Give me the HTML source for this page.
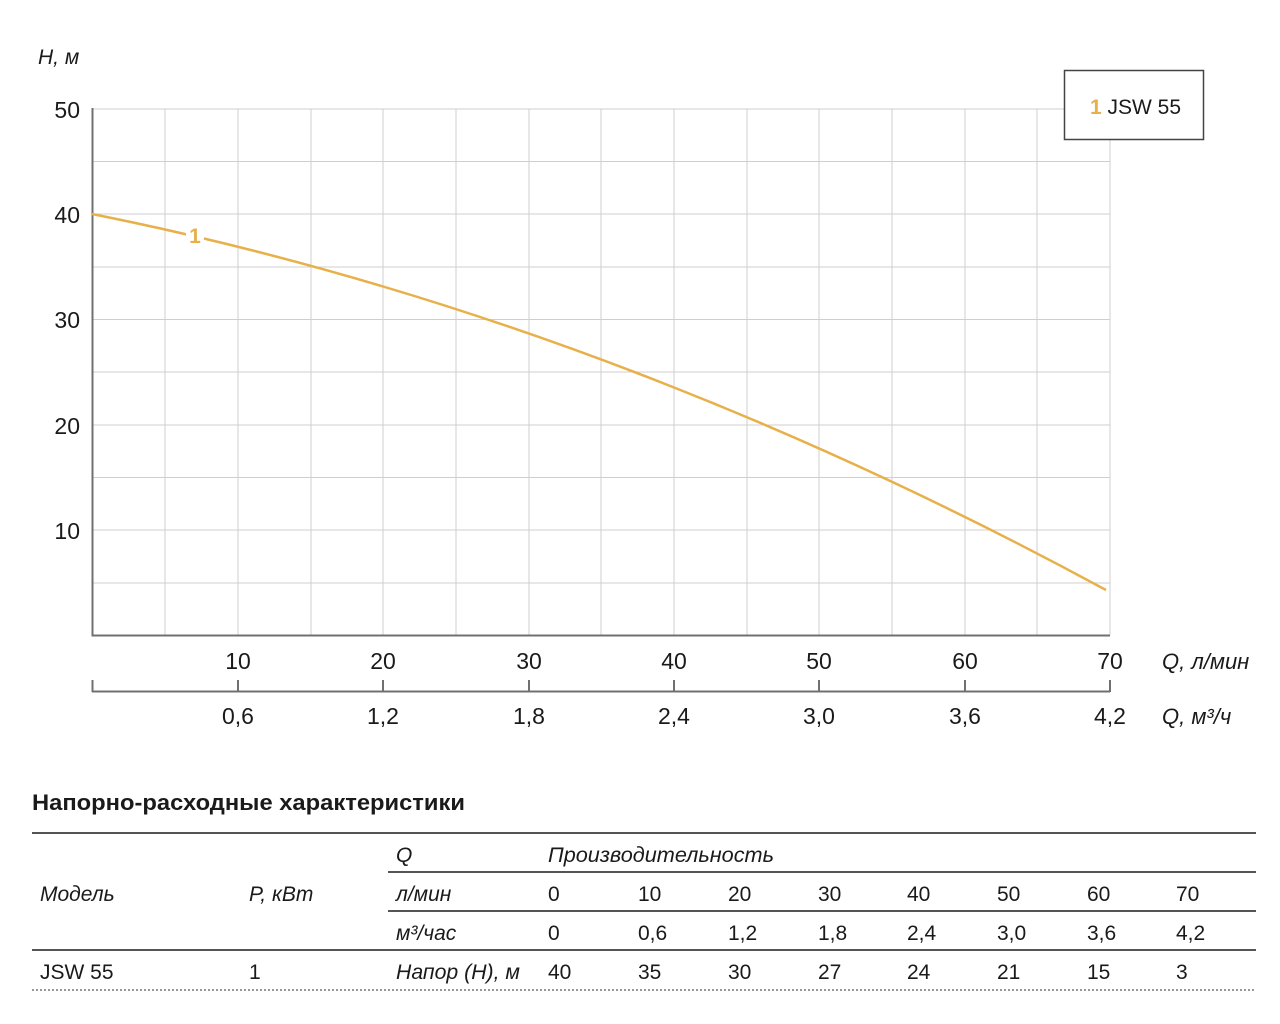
<!DOCTYPE html>
<html><head><meta charset="utf-8"><style>
html,body{margin:0;padding:0;background:#fff;}
svg{display:block;}
text{font-family:"Liberation Sans","DejaVu Sans",sans-serif;fill:#1a1a1a;}
.it{font-style:italic;}
</style></head><body>
<svg width="1280" height="1024" viewBox="0 0 1280 1024" xmlns="http://www.w3.org/2000/svg">
<rect width="1280" height="1024" fill="#fff"/>
<g stroke="#cfcfcf" stroke-width="1">
<line x1="165" y1="109" x2="165" y2="635"/><line x1="238" y1="109" x2="238" y2="635"/>
<line x1="311" y1="109" x2="311" y2="635"/><line x1="383" y1="109" x2="383" y2="635"/>
<line x1="456" y1="109" x2="456" y2="635"/><line x1="529" y1="109" x2="529" y2="635"/>
<line x1="601" y1="109" x2="601" y2="635"/><line x1="674" y1="109" x2="674" y2="635"/>
<line x1="747" y1="109" x2="747" y2="635"/><line x1="819" y1="109" x2="819" y2="635"/>
<line x1="892" y1="109" x2="892" y2="635"/><line x1="965" y1="109" x2="965" y2="635"/>
<line x1="1037" y1="109" x2="1037" y2="635"/><line x1="1110" y1="139" x2="1110" y2="635"/>
<line x1="92" y1="109" x2="1064" y2="109"/>
<line x1="92" y1="161.5" x2="1110" y2="161.5"/><line x1="92" y1="214" x2="1110" y2="214"/>
<line x1="92" y1="267" x2="1110" y2="267"/><line x1="92" y1="319.5" x2="1110" y2="319.5"/>
<line x1="92" y1="372" x2="1110" y2="372"/><line x1="92" y1="425" x2="1110" y2="425"/>
<line x1="92" y1="477.5" x2="1110" y2="477.5"/><line x1="92" y1="530" x2="1110" y2="530"/>
<line x1="92" y1="583" x2="1110" y2="583"/>
</g>
<polyline points="92.5,108 92.5,635.5 1110,635.5" fill="none" stroke="#707070" stroke-width="2"/>
<path d="M92,214 Q599,315.4 1106,590" fill="none" stroke="#E8B04A" stroke-width="2.5"/>
<rect x="186" y="222" width="18" height="24" fill="#fff"/>
<text x="195" y="243" font-size="21" font-weight="bold" style="fill:#E8B04A" text-anchor="middle">1</text>
<rect x="1064.5" y="70.5" width="139" height="69" fill="#fff" stroke="#444" stroke-width="1.5"/>
<text x="1090" y="114" font-size="21"><tspan style="fill:#E8B04A" font-weight="bold">1</tspan> JSW 55</text>
<text x="38" y="64" font-size="21" class="it">H, м</text>
<g font-size="23" text-anchor="end">
<text x="80" y="118">50</text><text x="80" y="223">40</text><text x="80" y="328">30</text><text x="80" y="434">20</text><text x="80" y="539">10</text>
</g>
<g font-size="23" text-anchor="middle">
<text x="238" y="669">10</text><text x="383" y="669">20</text><text x="529" y="669">30</text><text x="674" y="669">40</text>
<text x="819" y="669">50</text><text x="965" y="669">60</text><text x="1110" y="669">70</text>
<text x="238" y="724">0,6</text><text x="383" y="724">1,2</text><text x="529" y="724">1,8</text><text x="674" y="724">2,4</text>
<text x="819" y="724">3,0</text><text x="965" y="724">3,6</text><text x="1110" y="724">4,2</text>
</g>
<text x="1162" y="669" font-size="22" class="it">Q, л/мин</text>
<text x="1162" y="724" font-size="22" class="it">Q, м³/ч</text>
<g stroke="#707070" stroke-width="2" fill="none">
<line x1="92" y1="691.5" x2="1110" y2="691.5"/>
<line x1="92.5" y1="680" x2="92.5" y2="692"/><line x1="238" y1="680" x2="238" y2="692"/>
<line x1="383" y1="680" x2="383" y2="692"/><line x1="529" y1="680" x2="529" y2="692"/>
<line x1="674" y1="680" x2="674" y2="692"/><line x1="819" y1="680" x2="819" y2="692"/>
<line x1="965" y1="680" x2="965" y2="692"/><line x1="1110" y1="680" x2="1110" y2="692"/>
</g>
<text x="32" y="810" font-size="22" font-weight="bold" textLength="433" lengthAdjust="spacingAndGlyphs">Напорно-расходные характеристики</text>
<g stroke="#555" stroke-width="2">
<line x1="32" y1="833" x2="1256" y2="833"/>
<line x1="388" y1="872" x2="1256" y2="872"/>
<line x1="388" y1="911" x2="1256" y2="911"/>
<line x1="32" y1="950" x2="1256" y2="950"/>
</g>
<line x1="32" y1="990" x2="1256" y2="990" stroke="#777" stroke-width="1.5" stroke-dasharray="2,2"/>
<g font-size="21">
<text x="396" y="862" class="it">Q</text>
<text x="548" y="862" class="it" textLength="226" lengthAdjust="spacingAndGlyphs">Производительность</text>
<text x="40" y="901" class="it">Модель</text>
<text x="249" y="901" class="it">P, кВт</text>
<text x="396" y="901" class="it">л/мин</text>
<text x="396" y="940" class="it">м³/час</text>
<text x="40" y="979">JSW 55</text>
<text x="249" y="979">1</text>
<text x="396" y="979" class="it" textLength="124" lengthAdjust="spacingAndGlyphs">Напор (Н), м</text>
<text x="548" y="901">0</text><text x="638" y="901">10</text><text x="728" y="901">20</text><text x="818" y="901">30</text><text x="907" y="901">40</text><text x="997" y="901">50</text><text x="1087" y="901">60</text><text x="1176" y="901">70</text>
<text x="548" y="940">0</text><text x="638" y="940">0,6</text><text x="728" y="940">1,2</text><text x="818" y="940">1,8</text><text x="907" y="940">2,4</text><text x="997" y="940">3,0</text><text x="1087" y="940">3,6</text><text x="1176" y="940">4,2</text>
<text x="548" y="979">40</text><text x="638" y="979">35</text><text x="728" y="979">30</text><text x="818" y="979">27</text><text x="907" y="979">24</text><text x="997" y="979">21</text><text x="1087" y="979">15</text><text x="1176" y="979">3</text>
</g>
</svg>
</body></html>
